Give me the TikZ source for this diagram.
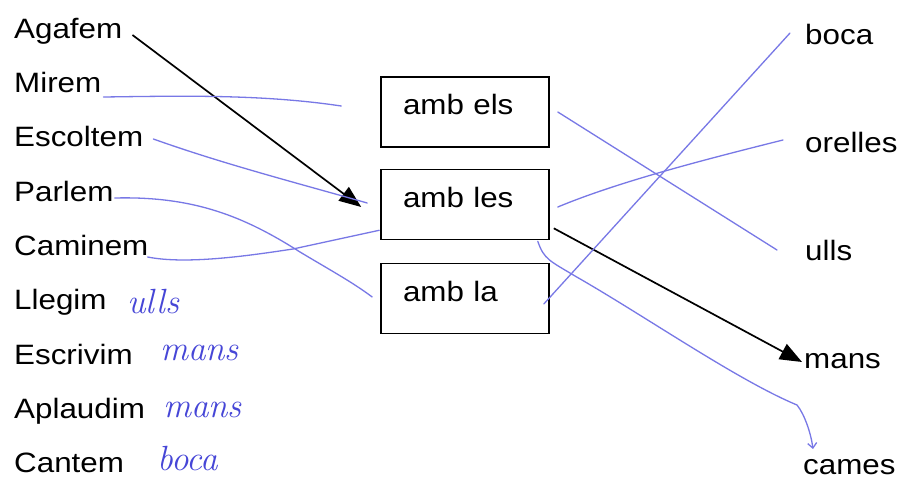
\documentclass[tikz,border=0pt]{standalone}
\usepackage{fontspec}
\newfontfamily\labfont[FakeStretch=1.12]{Liberation Sans}
\usetikzlibrary{arrows.meta,calc}
\definecolor{handblue}{RGB}{70,70,215}
\definecolor{penblue}{RGB}{120,120,230}
\begin{document}
\begin{tikzpicture}[x=1pt,y=-1pt,
  lbl/.style={anchor=base west,inner sep=0pt,font=\labfont\fontsize{28}{34}\selectfont},
  hand/.style={anchor=base west,inner sep=0pt,text=handblue,font=\fontsize{35}{40}\selectfont\itshape},
  boxn/.style={draw,line width=1.6pt,minimum width=168pt,minimum height=70pt,
    text width=124pt,align=left,inner xsep=22pt,inner ysep=0pt,
    text height=20pt,text depth=14pt,font=\labfont\fontsize{28}{34}\selectfont},
  blk/.style={line width=1.7pt,-{Triangle[length=22pt,width=17pt]}},
  pen/.style={penblue,line width=1.3pt,line cap=round}]
\useasboundingbox[fill=white] (0,0) rectangle (899,481);
% left labels
\node[lbl] (agafem)   at (14,39)  {Agafem};
\node[lbl] (mirem)    at (14,93)  {Mirem};
\node[lbl] (escoltem) at (14,147) {Escoltem};
\node[lbl] (parlem)   at (14,201) {Parlem};
\node[lbl] (caminem)  at (14,255) {Caminem};
\node[lbl] (llegim)   at (14,309) {Llegim};
\node[lbl] (escrivim) at (14,364) {Escrivim};
\node[lbl] (aplaudim) at (14,418) {Aplaudim};
\node[lbl] (cantem)   at (14,472) {Cantem};
% handwritten answers
\node[hand] (hw1) at (127,313) {ulls};
\node[hand] (hw2) at (160,360) {mans};
\node[hand] (hw3) at (163,417) {mans};
\node[hand] (hw4) at (157,470) {boca};
% boxes
\node[boxn] (els) at (465,112)   {amb els};
\node[boxn] (les) at (465,204.5) {amb les};
\node[boxn] (la)  at (465,298.5) {amb la};
% right labels
\node[lbl] (boca)    at (805,45)  {boca};
\node[lbl] (orelles) at (805,153) {orelles};
\node[lbl] (ulls)    at (805,260) {ulls};
\node[lbl] (mans)    at (804,368) {mans};
\node[lbl] (cames)   at (803,474) {cames};
% black arrows
\draw[blk] ($(agafem.base east)+(10,-4)$) -- ($(les.west)+(-19,2.5)$);
\draw[blk] ($(les.south east)+(4,-12)$) -- ($(mans.base west)+(-2,-6)$);
% blue pen lines
\draw[pen] ($(mirem.base east)+(2,4)$) .. controls +(77,-1) and +(-80,-12) .. ($(els.west)+(-39,-6)$);
\draw[pen] ($(escoltem.base east)+(10,-8)$) .. controls +(70,25) and +(-70,-20) .. ($(les.west)+(-13,-1.5)$);
\draw[pen] ($(parlem.base east)+(1,-3)$) .. controls +(80,-2) and +(-55,-35) .. (300,252)
   .. controls +(30,18) and +(-20,-15) .. ($(la.west)+(-8,-1.5)$);
\draw[pen] ($(caminem.base east)+(-1,2)$) .. controls +(40,8) and +(-40,6) .. (293,249) -- ($(les.south west)+(-1,-10)$);
\draw[pen] ($(els.east)+(8,0)$) -- ($(ulls.base west)+(-28,-10)$);
\draw[pen] ($(les.east)+(8,2.5)$) .. controls +(60,-25) and +(-80,20) .. ($(orelles.base west)+(-22,-13)$);
\draw[pen] ($(la.east)+(-6,5.5)$) -- ($(boca.base west)+(-15,-12)$);
\draw[pen,-{Straight Barb[length=5pt,width=9pt]}] ($(les.south east)+(-12,1)$) .. controls +(6,18) and +(-25,-15) .. (575,276)
   .. controls +(70,40) and +(-60,-25) .. (797,405)
   .. controls +(8,10) and +(-2,-15) .. ($(cames.base west)+(10,-25)$);
\end{tikzpicture}
\end{document}
